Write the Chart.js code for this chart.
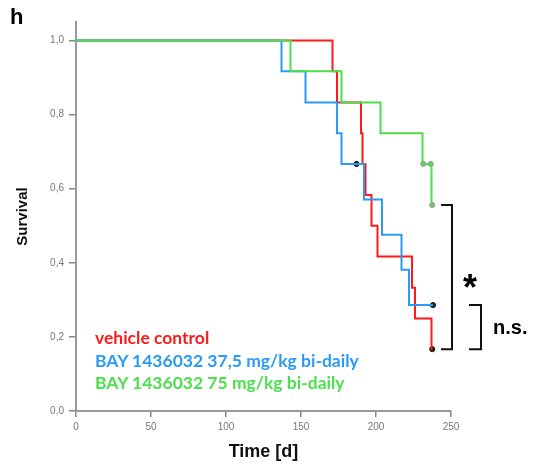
<!DOCTYPE html>
<html>
<head>
<meta charset="utf-8">
<script src="https://cdn.jsdelivr.net/npm/chart.js@4.4.1/dist/chart.umd.min.js"></script>
<style>
  body { margin: 0; background: #fff; }
  #wrap { position: relative; width: 539px; height: 467px; }
  .lbl { position: absolute; font-family: Lato, "Open Sans", sans-serif; font-weight: bold; white-space: nowrap; }
</style>
</head>
<body>
<div id="wrap">
  <canvas id="c" width="539" height="467"></canvas>
  <div class="lbl" style="left:10px;top:4px;font-size:22px;font-family:'Liberation Sans',sans-serif;">h</div>
  <div class="lbl" style="left:95px;top:327px;font-size:17.5px;color:#ff1a1a;">vehicle control</div>
  <div class="lbl" style="left:95px;top:350px;font-size:17.5px;color:#2b9af3;">BAY 1436032 37,5 mg/kg bi-daily</div>
  <div class="lbl" style="left:95px;top:372px;font-size:17.5px;color:#4be04b;">BAY 1436032 75 mg/kg bi-daily</div>
  <div class="lbl" style="left:463px;top:267px;font-size:36px;font-family:'Liberation Sans',sans-serif;">*</div>
  <div class="lbl" style="left:493px;top:316px;font-size:20px;font-family:'Liberation Sans',sans-serif;">n.s.</div>
</div>
<script>
// survival steps (day, survival after event)
const redDays   = [171, 174, 190, 191, 193, 197, 201, 224, 226, 237];
const redSurv   = [0.917, 0.833, 0.75, 0.667, 0.583, 0.5, 0.417, 0.333, 0.25, 0.167];
const blueDays  = [137, 153, 174, 177, 192, 204, 217, 222];
const blueSurv  = [0.917, 0.833, 0.75, 0.667, 0.571, 0.476, 0.381, 0.286];
const greenDays = [143, 177, 203, 231, 237];
const greenSurv = [0.917, 0.833, 0.75, 0.667, 0.556];

// censored animals
const redCensDays = [237.5];
const redCensSurv = [0.167];
const blueCensDays = [187, 238];
const blueCensSurv = [0.667, 0.286];
const greenCensDays = [231.5, 236.5, 237.5];
const greenCensSurv = [0.667, 0.667, 0.556];

const xTicks = [0, 50, 100, 150, 200, 250];
const yTicks = [0, 0.2, 0.4, 0.6, 0.8, 1.0];

// step points, line runs on to the last censored animal
function steps(days, surv, endDay) {
  const pts = [{x: 0, y: 1}];
  days.forEach((d, i) => pts.push({x: d, y: surv[i]}));
  pts.push({x: endDay, y: surv[surv.length - 1]});
  return pts;
}
function dots(days, surv) {
  return days.map((d, i) => ({x: d, y: surv[i]}));
}

const brackets = {
  id: 'brackets',
  afterDraw(chart) {
    const {ctx, scales: {y}} = chart;
    ctx.save();
    ctx.strokeStyle = '#111';
    ctx.lineWidth = 2;
    const br = (x0, x1, v0, v1) => {
      const a = y.getPixelForValue(v0), b = y.getPixelForValue(v1);
      ctx.beginPath();
      ctx.moveTo(x0, a); ctx.lineTo(x1, a); ctx.lineTo(x1, b); ctx.lineTo(x0, b);
      ctx.stroke();
    };
    br(441, 452, 0.556, 0.167);
    br(469, 481, 0.286, 0.167);
    ctx.restore();
  }
};

const lineDs = (label, data, color) => ({
  label, data, borderColor: color, borderWidth: 2, stepped: 'before',
  pointRadius: 0, fill: false
});
const dotDs = (data, color) => ({
  data, type: 'scatter', showLine: false, pointRadius: 2.6,
  backgroundColor: color, borderColor: color
});

new Chart(document.getElementById('c'), {
  type: 'line',
  data: {
    datasets: [
      lineDs('BAY 1436032 75 mg/kg bi-daily', steps(greenDays, greenSurv, 237.5), '#4be04b'),
      lineDs('BAY 1436032 37,5 mg/kg bi-daily', steps(blueDays, blueSurv, 238), '#2b9af3'),
      lineDs('vehicle control', steps(redDays, redSurv, 237.5), '#ff1a1a'),
      dotDs(dots(greenCensDays, greenCensSurv), '#a0a0a0'),
      dotDs(dots(blueCensDays, blueCensSurv), '#222'),
      dotDs(dots(redCensDays, redCensSurv), '#222')
    ]
  },
  options: {
    responsive: false,
    animation: false,
    layout: { padding: { top: 22, right: 88, left: 0, bottom: 0 } },
    plugins: { legend: { display: false }, tooltip: { enabled: false } },
    scales: {
      x: {
        type: 'linear', min: 0, max: 250,
        afterBuildTicks: s => { s.ticks = xTicks.map(v => ({value: v})); },
        afterFit: s => { s.height = 56; },
        grid: { drawOnChartArea: false, drawTicks: true, tickLength: 6, color: '#888', lineWidth: 1.5 },
        border: { color: '#999', width: 2 },
        ticks: { color: '#777', font: { family: 'Liberation Sans', size: 10 }, padding: 4 },
        title: { display: true, text: 'Time [d]', color: '#111', padding: { top: 5 },
                 font: { family: 'Liberation Sans', size: 18, weight: 'bold' } }
      },
      y: {
        min: 0, max: 1.05,
        afterBuildTicks: s => { s.ticks = yTicks.map(v => ({value: v})); },
        afterFit: s => { s.width = 76; },
        grid: { drawOnChartArea: false, drawTicks: true, tickLength: 7, color: '#888', lineWidth: 1.5 },
        border: { color: '#999', width: 2 },
        ticks: { color: '#777', font: { family: 'Liberation Sans', size: 10 }, padding: 5,
                 callback: v => v.toFixed(1).replace('.', ',') },
        title: { display: true, text: 'Survival', color: '#111', padding: { top: 14, bottom: 0 },
                 font: { family: 'Liberation Sans', size: 15, weight: 'bold' } }
      }
    }
  },
  plugins: [brackets]
});
</script>
</body>
</html>
